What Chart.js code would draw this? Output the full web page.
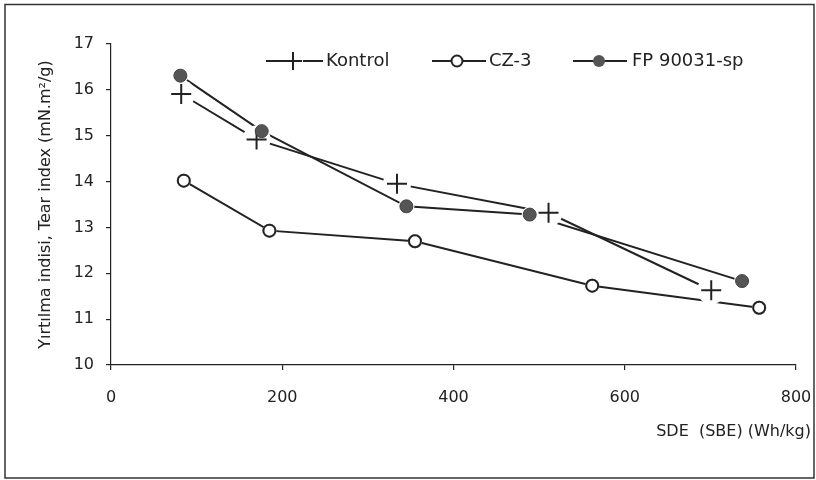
<!DOCTYPE html>
<html>
<head>
<meta charset="utf-8">
<script src="https://cdn.jsdelivr.net/npm/chart.js@4/dist/chart.umd.min.js"></script>
<style>
    html, body { margin: 0; padding: 0; background: #fff; }
    #wrap { width: 816px; height: 480px; position: relative; }
</style>
</head>
<body>
<div id="wrap"><canvas id="chartCanvas"></canvas></div>
<script>
// Data
const kontrolX = [82, 170, 334, 511, 701];
const kontrolY = [15.91, 14.92, 13.95, 13.32, 11.63];
const cz3X = [85, 185, 355, 562, 757];
const cz3Y = [14.02, 12.93, 12.70, 11.73, 11.25];
const fpX = [81, 176, 345, 489, 737];
const fpY = [16.31, 15.10, 13.46, 13.28, 11.83];
const seriesNames = ['Kontrol', 'CZ-3', 'FP 90031-sp'];
const xTicks = [0, 200, 400, 600, 800];
const yTicks = [10, 11, 12, 13, 14, 15, 16, 17];
const xTitle = 'SDE  (SBE) (Wh/kg)';
const yTitle = 'Yırtılma indisi, Tear index (mN.m²/g)';

const FONT = 'DejaVu Sans';
const INK = '#222';

const toPoints = (xs, ys) => xs.map((x, i) => ({ x: x, y: ys[i] }));

// White halo around the markers, then markers drawn again (gaps in the lines)
const haloPlugin = {
    id: 'halo',
    afterDatasetsDraw(chart) {
        const ctx = chart.ctx;
        ctx.save();
        ctx.fillStyle = '#fff';
        chart.data.datasets.forEach((ds, i) => {
            chart.getDatasetMeta(i).data.forEach(pt => {
                ctx.beginPath();
                ctx.arc(pt.x, pt.y, ds.haloRadius, 0, Math.PI * 2);
                ctx.fill();
            });
        });
        ctx.restore();
        chart.data.datasets.forEach((ds, i) => {
            chart.getDatasetMeta(i).data.forEach(pt => pt.draw(ctx, chart.chartArea));
        });
    }
};

// Frame, legend and x title
const decorPlugin = {
    id: 'decor',
    beforeDraw(chart) {
        const ctx = chart.ctx;
        ctx.save();
        ctx.strokeStyle = '#333';
        ctx.lineWidth = 1.5;
        ctx.strokeRect(5, 4.5, 809, 473.5);
        ctx.restore();
    },
    afterDraw(chart) {
        const ctx = chart.ctx;
        const y = 61;
        ctx.save();
        ctx.strokeStyle = INK;
        ctx.lineWidth = 2;

        // Kontrol
        ctx.beginPath();
        ctx.moveTo(266, y); ctx.lineTo(284, y);
        ctx.moveTo(303, y); ctx.lineTo(323, y);
        ctx.moveTo(284, y); ctx.lineTo(302, y);
        ctx.moveTo(293, y - 9); ctx.lineTo(293, y + 9);
        ctx.stroke();

        // CZ-3
        ctx.beginPath();
        ctx.moveTo(432, y); ctx.lineTo(486, y);
        ctx.stroke();
        ctx.beginPath();
        ctx.arc(457, y, 5.5, 0, Math.PI * 2);
        ctx.fillStyle = '#fff';
        ctx.fill();
        ctx.stroke();

        // FP 90031-sp
        ctx.beginPath();
        ctx.moveTo(573, y); ctx.lineTo(627, y);
        ctx.stroke();
        ctx.beginPath();
        ctx.arc(599, y, 6, 0, Math.PI * 2);
        ctx.fillStyle = '#555';
        ctx.fill();

        ctx.fillStyle = INK;
        ctx.font = '18px "' + FONT + '"';
        ctx.textBaseline = 'middle';
        ctx.textAlign = 'left';
        ctx.fillText(seriesNames[0], 326, y);
        ctx.fillText(seriesNames[1], 489, y);
        ctx.fillText(seriesNames[2], 632, y);

        ctx.font = '16px "' + FONT + '"';
        ctx.textAlign = 'right';
        ctx.fillText(xTitle, 811, 432);
        ctx.restore();
    }
};

const config = {
    type: 'scatter',
    data: {
        datasets: [
            {
                label: seriesNames[0],
                data: toPoints(kontrolX, kontrolY),
                showLine: true,
                borderColor: INK,
                borderWidth: 2,
                pointStyle: 'cross',
                pointRadius: 10,
                pointBorderWidth: 2,
                pointBorderColor: INK,
                haloRadius: 14
            },
            {
                label: seriesNames[1],
                data: toPoints(cz3X, cz3Y),
                showLine: true,
                borderColor: INK,
                borderWidth: 2,
                pointStyle: 'circle',
                pointRadius: 6,
                pointBorderWidth: 2,
                pointBorderColor: INK,
                pointBackgroundColor: '#fff',
                haloRadius: 7
            },
            {
                label: seriesNames[2],
                data: toPoints(fpX, fpY),
                showLine: true,
                borderColor: INK,
                borderWidth: 2,
                pointStyle: 'circle',
                pointRadius: 6.5,
                pointBorderWidth: 1,
                pointBorderColor: '#444',
                pointBackgroundColor: '#555',
                haloRadius: 8
            }
        ]
    },
    options: {
        responsive: true,
        maintainAspectRatio: false,
        devicePixelRatio: 1,
        animation: false,
        layout: { padding: { top: 44, right: 20, bottom: 0, left: 0 } },
        plugins: {
            legend: { display: false },
            tooltip: { enabled: false }
        },
        scales: {
            x: {
                type: 'linear',
                min: xTicks[0],
                max: xTicks[xTicks.length - 1],
                afterBuildTicks: scale => { scale.ticks = xTicks.map(v => ({ value: v })); },
                afterFit: scale => {
                    scale.height = 115;
                    scale.paddingLeft = 0;
                    scale.paddingRight = 0;
                },
                ticks: {
                    color: INK,
                    font: { family: FONT, size: 16 },
                    padding: 18,
                    maxRotation: 0
                },
                grid: { drawOnChartArea: false, tickLength: 5, color: INK, lineWidth: 1.2 },
                border: { color: INK, width: 1.2 }
            },
            y: {
                min: yTicks[0],
                max: yTicks[yTicks.length - 1],
                afterBuildTicks: scale => { scale.ticks = yTicks.map(v => ({ value: v })); },
                afterFit: scale => {
                    scale.width = 111;
                    scale.paddingTop = 0;
                    scale.paddingBottom = 0;
                },
                ticks: {
                    color: INK,
                    font: { family: FONT, size: 16 },
                    padding: 12
                },
                grid: { drawOnChartArea: false, tickLength: 5, color: INK, lineWidth: 1.2 },
                border: { color: INK, width: 1.2 },
                title: {
                    display: true,
                    text: yTitle,
                    color: INK,
                    font: { family: FONT, size: 16 },
                    padding: { top: 36, bottom: 0 }
                }
            }
        }
    },
    plugins: [decorPlugin, haloPlugin]
};

document.addEventListener('DOMContentLoaded', () => {
    const ctx = document.getElementById('chartCanvas').getContext('2d');
    window.tearChart = new Chart(ctx, config);
});
</script>
</body>
</html>
